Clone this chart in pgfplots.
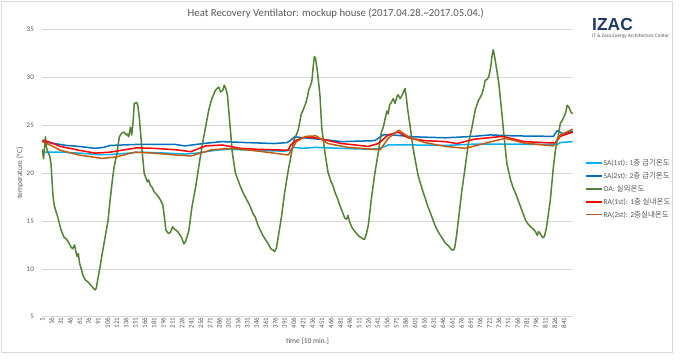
\documentclass[border=0pt]{standalone}
\usepackage{fontspec}
\setmainfont{Carlito}
\newfontfamily\krfont{Noto Sans CJK KR}
\newfontfamily\logofont{Liberation Sans}
\usepackage{pgfplots}
\pgfplotsset{compat=1.18}
\definecolor{cSAa}{HTML}{00B0F0}
\definecolor{cSAb}{HTML}{0070C0}
\definecolor{cOA}{HTML}{548235}
\definecolor{cRAa}{HTML}{FF0000}
\definecolor{cRAb}{HTML}{C55A11}
\definecolor{txt}{HTML}{595959}
\definecolor{gridc}{HTML}{D9D9D9}
\definecolor{logo}{HTML}{203864}
\newcommand{\kr}[1]{{\krfont #1}}
\begin{document}
\begin{tikzpicture}
\path[use as bounding box] (0,0) rectangle (680bp,361bp);
\draw[gridc, line width=0.75bp] (1.7bp,8.3bp) rectangle (672.7bp,360bp);
\node[text=txt, font=\fontsize{10.8}{12}\selectfont] at (335.8bp,348bp) {Heat Recovery Ventilator: mockup house (2017.04.28.\textasciitilde 2017.05.04.)};
\node[anchor=base west, inner sep=0pt, text=logo, font=\logofont\bfseries\fontsize{17.5}{18}\selectfont] at (592bp,330bp) {IZAC};
\node[anchor=base west, inner sep=0pt, text=txt, font=\fontsize{5.2}{6}\selectfont] at (592bp,323bp) {IT \& Zero Energy Architecture Center};
\begin{axis}[
  at={(42bp,44.3bp)}, anchor=south west, scale only axis,
  width=531bp, height=287bp,
  xmin=0.5, xmax=855.5, ymin=5, ymax=35,
  ytick={5,10,...,35}, xtick={1,16,...,841},
  ymajorgrids, grid style={draw=gridc, line width=0.6bp},
  axis line style={draw=none}, major tick length=0pt,
  /pgf/number format/assume math mode=true,
  ticklabel style={text=txt, font=\fontsize{7}{8}\selectfont},
  xticklabel style={rotate=90, anchor=east, inner sep=1bp},
  yticklabel style={anchor=east, inner sep=0bp, xshift=-8bp},
  xlabel={time [10 min.]},
  xlabel style={at={(axis description cs:0.5,-0.0854)}, anchor=center, text=txt, font=\fontsize{7.5}{8}\selectfont},
  ylabel={temperature [\textdegree C]},
  ylabel style={at={(axis description cs:-0.0414,0.5)}, anchor=center, rotate=0, text=txt, font=\fontsize{7.5}{8}\selectfont},
  legend style={at={(1.0226,0.552)}, anchor=north west, draw=none, fill=none,
    font=\fontsize{7.6}{8}\selectfont, text=txt, inner sep=0pt, row sep=3.5bp,
    nodes={inner sep=0.8bp}},
  legend cell align=left,
  legend image code/.code={\draw[#1, line width=1.6bp] (0bp,0bp) -- (16bp,0bp);},
  every axis plot/.append style={line width=1.5bp, line join=round},
]
\addplot[color=cSAa] coordinates {
(1,22.2)(30,22.2)(60,22.1)(90,21.95)(110,21.95)(140,22.1)(160,22.2)(200,22.1)(230,22.0)(250,22.1)(280,22.4)(300,22.5)(340,22.4)(390,22.3)(400,22.4)(405,22.7)(420,22.6)(440,22.7)(480,22.6)(530,22.5)(545,22.6)(558,22.95)(600,22.95)(650,22.9)(700,23.05)(750,23.05)(800,23.0)(830,23.0)(835,23.2)(855,23.3)
};
\addlegendentry{SA(1st): 1\kr{층 급기온도}}
\addplot[color=cSAb] coordinates {
(1,23.3)(20,23.1)(40,22.9)(60,22.8)(86,22.6)(100,22.7)(110,22.9)(150,23.0)(200,23.0)(216,23.0)(230,22.85)(260,23.1)(290,23.3)(330,23.2)(374,23.1)(395,23.2)(400,23.4)(407,23.8)(430,23.65)(456,23.5)(483,23.3)(536,23.4)(550,24.0)(564,24.0)(600,23.8)(650,23.7)(696,23.85)(722,24.0)(760,23.9)(824,23.85)(830,24.45)(840,24.1)(855,24.4)
};
\addlegendentry{SA(2st): 2\kr{층 급기온도}}
\addplot[color=cOA] coordinates {
(1,22.5)(3,21.5)(5,23.0)(6,23.8)(8,22.6)(10,22.2)(13,21.8)(15,21.0)(18,17.8)(20,16.7)(23,16.0)(26,15.4)(31,14.1)(36,13.3)(40,13.1)(44,12.7)(47,12.3)(50,12.1)(53,12.5)(55,11.8)(57,11.3)(59,11.6)(61,10.6)(64,9.9)(66,9.4)(69,9.0)(71,8.8)(75,8.6)(79,8.3)(83,8.0)(86,7.8)(88,8.0)(90,8.8)(94,10.2)(98,11.8)(104,14.0)(107,15.1)(109,16.5)(114,19.4)(117,20.8)(121,22.0)(125,23.8)(129,24.2)(133,24.3)(136,24.0)(138,24.1)(140,23.8)(143,24.8)(145,24.0)(147,25.2)(149,27.3)(153,27.4)(155,27.0)(157,25.9)(159,24.4)(161,22.8)(165,20.0)(170,19.1)(172,19.3)(175,18.75)(178,18.5)(181,18.05)(186,17.7)(190,17.35)(195,16.7)(198,15.2)(200,14.05)(204,13.7)(207,13.8)(211,14.4)(213,14.2)(216,14.05)(219,13.9)(221,13.7)(225,13.3)(229,12.6)(232,12.9)(237,14.0)(242,16.5)(248,18.6)(253,20.7)(258,22.75)(264,24.85)(269,26.6)(274,27.8)(280,28.7)(285,29.0)(288,28.5)(291,28.6)(294,29.2)(297,28.7)(299,28.2)(303,25.2)(307,22.1)(312,20.0)(316,19.3)(320,18.6)(324,18.0)(328,17.5)(332,17.0)(336,16.5)(340,15.8)(344,15.4)(348,14.6)(352,14.05)(356,13.5)(361,13.0)(365,12.6)(369,12.1)(372,12.0)(375,11.8)(378,12.2)(380,13.0)(383,14.2)(386,15.4)(391,17.9)(397,20.3)(402,22.0)(405,23.2)(407,23.6)(410,24.0)(413,24.5)(416,25.5)(418,26.2)(421,26.6)(425,27.3)(428,28.0)(430,28.7)(433,29.2)(435,29.6)(437,31.0)(439,32.2)(441,32.0)(444,30.6)(448,28.2)(451,24.7)(456,22.2)(461,20.1)(466,19.1)(469,18.7)(472,18.05)(476,17.4)(480,16.65)(484,16.0)(488,15.3)(491,15.2)(493,15.6)(496,14.9)(499,14.4)(503,14.0)(507,13.7)(511,13.4)(515,13.25)(518,13.1)(520,13.1)(523,13.7)(526,14.6)(531,17.4)(536,19.8)(542,22.2)(547,24.3)(550,24.8)(553,25.7)(556,26.5)(558,26.2)(560,27.1)(563,27.4)(566,27.8)(569,27.3)(572,28.0)(574,28.2)(577,27.8)(579,28.0)(582,28.4)(585,28.85)(587,28.0)(589,26.8)(593,25.0)(598,22.6)(602,21.2)(606,19.8)(610,18.9)(614,18.05)(618,17.3)(621,16.65)(625,16.0)(629,15.3)(633,14.6)(637,14.05)(641,13.6)(645,13.2)(650,12.7)(655,12.4)(660,12.0)(663,11.95)(665,12.2)(668,13.5)(671,15.1)(676,17.9)(682,20.7)(687,23.1)(693,24.85)(698,26.6)(703,27.6)(706,27.9)(709,28.3)(712,29.0)(714,29.7)(717,29.8)(720,30.1)(723,31.1)(725,32.2)(727,32.9)(729,32.3)(732,31.1)(736,29.4)(740,26.9)(744,24.15)(749,21.0)(755,19.3)(759,18.5)(763,17.9)(767,17.2)(771,16.5)(775,15.8)(779,15.1)(783,14.7)(787,14.4)(791,14.2)(795,13.9)(798,13.5)(800,13.9)(802,13.75)(805,13.4)(808,13.25)(810,13.5)(813,14.4)(816,15.8)(819,17.2)(824,20.7)(827,22.3)(830,23.45)(832,24.0)(835,25.2)(838,25.5)(841,25.9)(844,26.4)(846,27.1)(849,26.9)(852,26.4)(855,26.2)
};
\addlegendentry{OA: \kr{실외온도}}
\addplot[color=cRAa] coordinates {
(1,23.45)(15,23.2)(30,22.8)(60,22.4)(86,22.1)(110,22.2)(153,22.65)(180,22.6)(216,22.45)(240,22.25)(264,22.85)(291,22.95)(320,22.6)(347,22.5)(397,22.4)(401,22.95)(410,23.45)(425,23.8)(445,23.65)(483,23.1)(526,22.8)(542,23.1)(558,24.0)(574,24.3)(590,23.7)(617,23.4)(650,23.3)(669,23.1)(696,23.55)(742,23.85)(777,23.3)(827,23.15)(835,23.85)(855,24.3)
};
\addlegendentry{RA(1st): 1\kr{층 실내온도}}
\addplot[color=cRAb] coordinates {
(1,23.3)(15,22.9)(30,22.4)(60,21.9)(97,21.55)(120,21.7)(150,22.2)(180,22.1)(216,21.9)(240,21.8)(274,22.45)(307,22.6)(350,22.3)(397,21.9)(402,22.4)(410,23.3)(425,23.85)(442,23.9)(461,23.1)(493,22.7)(545,22.45)(558,23.65)(575,24.5)(590,23.8)(617,23.2)(650,22.8)(682,22.6)(746,23.65)(777,23.15)(824,22.85)(835,24.0)(855,24.6)
};
\addlegendentry{RA(2st): 2\kr{층실내온도}}
\end{axis}
\end{tikzpicture}
\end{document}
